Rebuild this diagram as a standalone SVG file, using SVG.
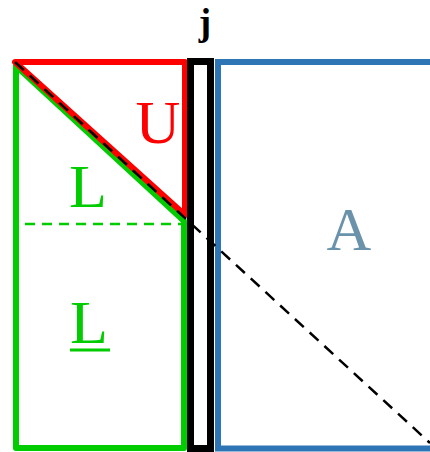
<svg xmlns="http://www.w3.org/2000/svg" width="430" height="452" viewBox="0 0 430 452">
<style>
.lbl{font-family:"Liberation Serif","Times New Roman",serif;text-anchor:middle}
</style>
<rect width="430" height="452" fill="#ffffff"/>
<g id="A-block">
<path d="M430,62 H218 V448.5 H430" fill="none" stroke="#2e75b6" stroke-width="6"/>
<text class="lbl" x="349" y="250" font-size="62" fill="#6a93ab">A</text>
</g>
<g id="L-block">
<polygon points="16,66 184,221 184,448 16,448" fill="none" stroke="#00cc00" stroke-width="6" stroke-linejoin="round"/>
<line x1="25" y1="224" x2="182" y2="224" stroke="#00cc00" stroke-width="2.5" stroke-dasharray="10,7"/>
<text class="lbl" x="88" y="207" font-size="62" fill="#00cc00">L</text>
<text class="lbl" x="89" y="343" font-size="62" fill="#00cc00">L</text>
<rect x="70" y="348.5" width="40" height="3" fill="#00cc00"/>
</g>
<g id="U-block">
<polygon points="15,62 185,62 185,215" fill="none" stroke="#ff0000" stroke-width="6" stroke-linejoin="round"/>
<text class="lbl" x="158" y="143" font-size="62" fill="#ff0000">U</text>
</g>
<g id="j-column">
<rect x="190.5" y="61.5" width="20" height="387" fill="#ffffff" stroke="#000000" stroke-width="7"/>
<text class="lbl" x="205" y="35" font-size="37" font-weight="bold" fill="#000000">j</text>
</g>
<g id="connectors">
<line x1="15" y1="62" x2="430" y2="443" stroke="#000000" stroke-width="2.5" stroke-dasharray="12,8"/>
</g>
</svg>
